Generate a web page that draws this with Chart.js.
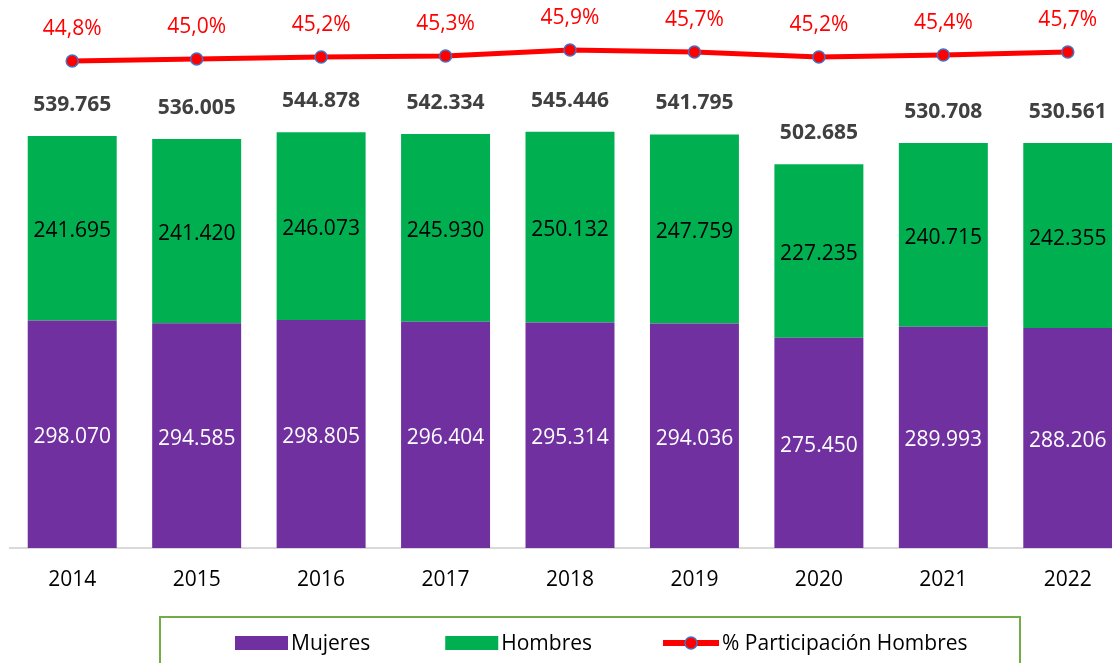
<!DOCTYPE html>
<html>
<head>
<meta charset="utf-8">
<script src="https://cdn.jsdelivr.net/npm/chart.js@4"></script>
<style>
  html, body { margin: 0; padding: 0; background: #fff; overflow: hidden; }
  #wrap { position: relative; width: 1130px; height: 663px; }
</style>
</head>
<body>
<div id="wrap"><canvas id="plot"></canvas></div>
<script>
const years = ['2014', '2015', '2016', '2017', '2018', '2019', '2020', '2021', '2022'];
const mujeres = [298070, 294585, 298805, 296404, 295314, 294036, 275450, 289993, 288206];
const hombres = [241695, 241420, 246073, 245930, 250132, 247759, 227235, 240715, 242355];
const participacion = [44.8, 45.0, 45.2, 45.3, 45.9, 45.7, 45.2, 45.4, 45.7];

const FONT = '"Open Sans", sans-serif';

function miles(n) {
    return String(n).replace(/\B(?=(\d{3})+(?!\d))/g, '.');
}

// etiquetas de valores sobre las barras y la línea
const labelsPlugin = {
    id: 'labels',
    afterDatasetsDraw(chart) {
        const ctx = chart.ctx;
        ctx.save();
        ctx.textAlign = 'center';
        ctx.textBaseline = 'middle';

        const mMeta = chart.getDatasetMeta(0);
        const hMeta = chart.getDatasetMeta(1);
        const pMeta = chart.getDatasetMeta(2);

        ctx.font = '21px ' + FONT;
        mMeta.data.forEach((bar, i) => {
            ctx.fillStyle = '#ffffff';
            ctx.fillText(miles(mujeres[i]), bar.x, (bar.y + bar.base) / 2 + 3);
        });
        hMeta.data.forEach((bar, i) => {
            ctx.fillStyle = '#000000';
            ctx.fillText(miles(hombres[i]), bar.x, (bar.y + bar.base) / 2 + 3);
        });

        ctx.font = 'bold 21px ' + FONT;
        ctx.fillStyle = '#404040';
        hMeta.data.forEach((bar, i) => {
            ctx.fillText(miles(mujeres[i] + hombres[i]), bar.x, bar.y - 31);
        });

        ctx.font = '21px ' + FONT;
        ctx.fillStyle = '#ff0000';
        pMeta.data.forEach((pt, i) => {
            ctx.fillText(participacion[i].toFixed(1).replace('.', ',') + '%', pt.x, pt.y - 32);
        });
        ctx.restore();
    }
};

// leyenda con recuadro verde
const legendPlugin = {
    id: 'boxLegend',
    afterDraw(chart) {
        const ctx = chart.ctx;
        ctx.save();
        ctx.strokeStyle = '#70ad47';
        ctx.lineWidth = 2;
        ctx.strokeRect(160, 617, 860, 80);

        ctx.font = '21px ' + FONT;
        ctx.textBaseline = 'middle';
        ctx.textAlign = 'left';
        const cy = 643;
        const items = chart.data.datasets.map(d => d.label);
        let x = 235;
        const gaps = [75, 71];
        items.forEach((text, i) => {
            const ds = chart.data.datasets[i];
            if (ds.type === 'line') {
                ctx.strokeStyle = ds.borderColor;
                ctx.lineWidth = 6;
                ctx.beginPath();
                ctx.moveTo(x, cy);
                ctx.lineTo(x + 56, cy);
                ctx.stroke();
                ctx.beginPath();
                ctx.arc(x + 28, cy, 6, 0, Math.PI * 2);
                ctx.fillStyle = ds.pointBackgroundColor;
                ctx.fill();
                ctx.lineWidth = 1.5;
                ctx.strokeStyle = ds.pointBorderColor;
                ctx.stroke();
                x += 59;
            } else {
                ctx.fillStyle = ds.backgroundColor;
                ctx.fillRect(x, cy - 7, 53, 14);
                x += 56;
            }
            ctx.fillStyle = '#000000';
            ctx.fillText(text, x, cy + 1);
            x += ctx.measureText(text).width + (gaps[i] || 0);
        });
        ctx.restore();
    }
};

new Chart(document.getElementById('plot'), {
    data: {
        labels: years,
        datasets: [
            {
                type: 'bar',
                label: 'Mujeres',
                data: mujeres,
                backgroundColor: '#7030a0',
                stack: 's',
                yAxisID: 'y',
                categoryPercentage: 1,
                barPercentage: 0.715,
                order: 2
            },
            {
                type: 'bar',
                label: 'Hombres',
                data: hombres,
                backgroundColor: '#00b050',
                stack: 's',
                yAxisID: 'y',
                categoryPercentage: 1,
                barPercentage: 0.715,
                order: 2
            },
            {
                type: 'line',
                label: '% Participación Hombres',
                data: participacion,
                borderColor: '#ff0000',
                borderWidth: 5,
                pointRadius: 6,
                pointBackgroundColor: '#ff0000',
                pointBorderColor: '#4472c4',
                pointBorderWidth: 1.5,
                tension: 0,
                yAxisID: 'y2',
                order: 1
            }
        ]
    },
    options: {
        responsive: true,
        maintainAspectRatio: false,
        animation: false,
        devicePixelRatio: 1,
        layout: { autoPadding: false, padding: { left: 10, right: 0, top: 0, bottom: 0 } },
        plugins: {
            legend: { display: false },
            tooltip: { enabled: false }
        },
        scales: {
            x: {
                stacked: true,
                grid: { display: false },
                border: { display: true, color: '#d9d9d9', width: 2 },
                ticks: { color: '#000000', font: { family: FONT, size: 21 }, padding: 11 },
                afterFit(scale) { scale.height = 115; }
            },
            y: {
                stacked: true,
                display: false,
                min: 0,
                max: 718000
            },
            y2: {
                display: false,
                min: -3.9,
                max: 50.9
            }
        }
    },
    plugins: [labelsPlugin, legendPlugin]
});
</script>
</body>
</html>
